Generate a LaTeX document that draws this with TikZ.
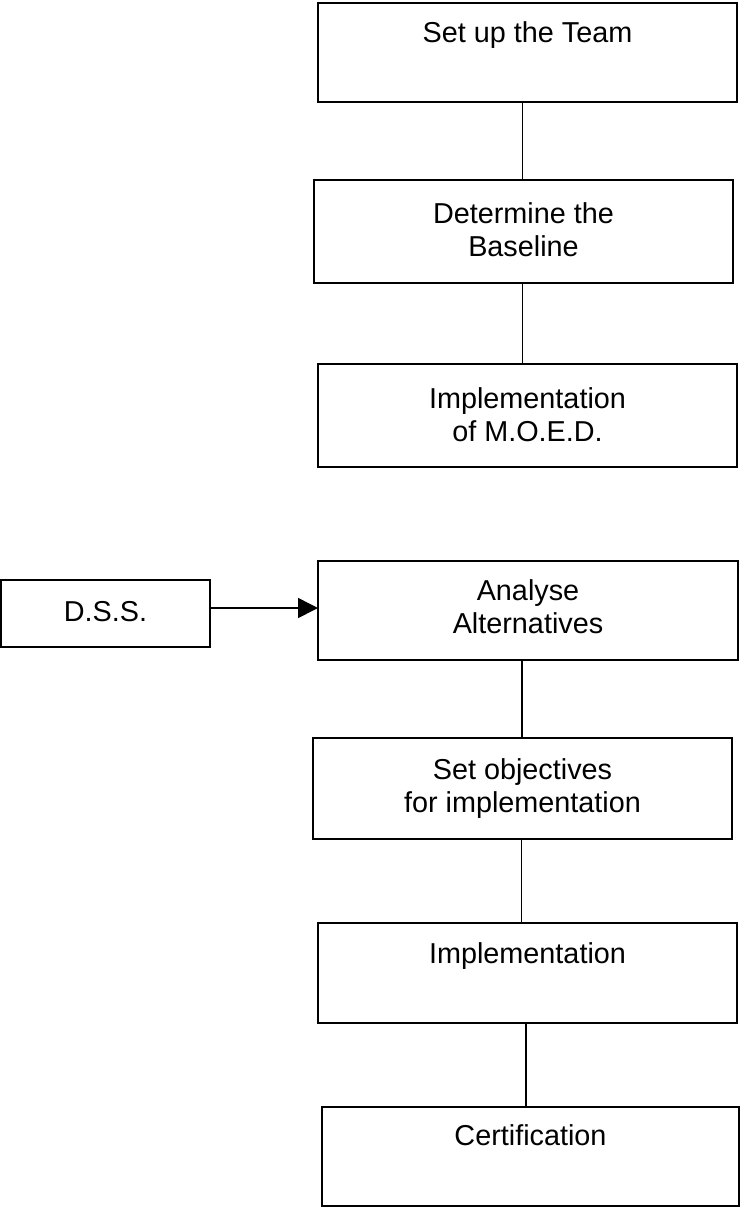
\documentclass[tikz,border=0pt]{standalone}
\usepackage{fontspec}
\setmainfont{Liberation Sans}
\usetikzlibrary{positioning,arrows.meta}

\begin{document}
\begin{tikzpicture}[x=0.5pt,y=-0.5pt,>={Triangle[length=10pt,width=10pt]},
  stepbox/.style={draw,line width=0.8pt,inner sep=0pt,outer sep=0pt,anchor=north west,minimum width=209.5pt},
  steptext/.style={inner sep=0pt,anchor=north,align=center,font=\fontsize{14.4}{16.5}\selectfont}]
\useasboundingbox (0,0) rectangle (740,1207);
% boxes
\node[stepbox,minimum height=49.5pt] (team) at (318,3) {};
\node[stepbox,minimum height=51.5pt] (baseline) at (314,180) {};
\node[stepbox,minimum height=51.5pt] (moed) at (318,364) {};
\node[stepbox,minimum width=104.5pt,minimum height=33.5pt] (dss) at (1,580) {};
\node[stepbox,minimum width=210pt,minimum height=49.5pt] (analyse) at (318,561) {};
\node[stepbox,minimum height=50.5pt] (objectives) at (313,738) {};
\node[stepbox,minimum height=50pt] (impl) at (318,923) {};
\node[stepbox,minimum width=208.5pt,minimum height=49.5pt] (cert) at (322,1107) {};
% texts
\node[steptext,below=9pt of team.north] (teamtext) {Set up the Team};
\node[steptext,below=11pt of baseline.north] (baselinetext) {Determine the\\Baseline};
\node[steptext,below=11.5pt of moed.north] (moedtext) {Implementation\\of M.O.E.D.};
\node[steptext,below=10.5pt of dss.north] (dsstext) {D.S.S.};
\node[steptext,below=9pt of analyse.north] (analysetext) {Analyse\\Alternatives};
\node[steptext,below=10pt of objectives.north] (objectivestext) {Set objectives\\for implementation};
\node[steptext,below=9.5pt of impl.north] (impltext) {Implementation};
\node[steptext,below=8.5pt of cert.north] (certtext) {Certification};
% connectors
\draw[line width=0.8pt] ([xshift=-2.5pt]team.south) -- ([xshift=-2.5pt]team.south |- baseline.north);
\draw[line width=0.8pt] ([xshift=-0.5pt]baseline.south) -- ([xshift=-0.5pt]baseline.south |- moed.north);
\draw[line width=0.8pt] ([xshift=-3pt]analyse.south) -- ([xshift=-3pt]analyse.south |- objectives.north);
\draw[line width=0.8pt] ([xshift=-0.5pt]objectives.south) -- ([xshift=-0.5pt]objectives.south |- impl.north);
\draw[line width=0.8pt] ([xshift=-0.75pt]impl.south) -- ([xshift=-0.75pt]impl.south |- cert.north);
\draw[line width=0.8pt,->] ([yshift=2.75pt]dss.east) -- ([yshift=2.75pt]dss.east -| analyse.west);
\end{tikzpicture}
\end{document}
